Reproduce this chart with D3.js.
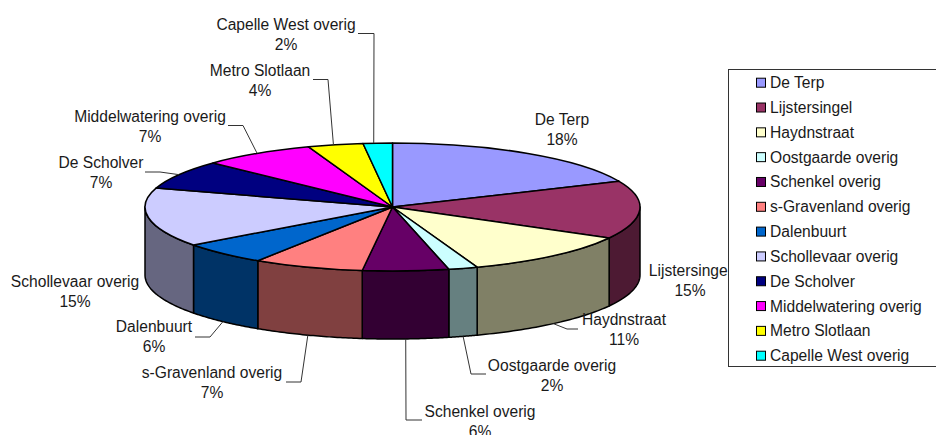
<!DOCTYPE html>
<html lang="en">
<head>
    <meta charset="UTF-8">
    <title>Aandeel per gebied</title>
    <style>
        html, body { margin: 0; padding: 0; background: #fff; overflow: hidden; }
        svg { display: block; }
        svg text { font-family: 'Liberation Sans', Arial, sans-serif; font-size: 15.6px; fill: #1a1a1a; }
    </style>
    <script src="https://d3js.org/d3.v7.min.js"></script>
</head>
<body>
    <svg width="936" height="435"></svg>
    <script>
        const categories = ["De Terp", "Lijstersingel", "Haydnstraat", "Oostgaarde overig", "Schenkel overig",
            "s-Gravenland overig", "Dalenbuurt", "Schollevaar overig", "De Scholver", "Middelwatering overig",
            "Metro Slotlaan", "Capelle West overig"];
        const shares = [18.4, 14.6, 11.4, 1.9, 5.6, 7.2, 5.7, 14.9, 7.3, 7.4, 3.6, 1.9];
        const colors = ["#9999ff", "#993366", "#ffffcc", "#ccffff", "#660066", "#ff8080",
            "#0066cc", "#ccccff", "#000080", "#ff00ff", "#ffff00", "#00ffff"];

        // label centre, then the elbow of its leader line (null = no leader)
        const labelX = [562, 690, 624, 552, 480, 212, 154, 75, 101, 150, 260, 286];
        const labelY = [120, 271, 320, 366, 412, 373, 327, 282, 163, 117, 71, 25];
        const leaders = [null, null,
            [[578, 329], [567, 329]], [[486, 374], [471, 374]], [[422, 420], [406, 420]],
            [[286, 382], [301, 382]], [[195, 337], [210, 337]], null,
            [[145, 172], [160, 172]], [[228, 125.5], [243, 125.5]],
            [[313, 79.5], [328, 79.5]], [[358, 33.5], [374, 33.5]]];
        // the two narrow back slices have their leader a bit left of the middle
        const leaderShift = [0, 0, 0, 0, 0, 0, 0, 0, 0, 0, -2, -4];

        const cx = 392.5, cy = 207, rx = 247.5, ry = 64, depth = 68;
        const svg = d3.select("svg");

        const pie = d3.pie().sort(null).value(d => d);
        const slices = pie(shares);

        const rimX = a => cx + rx * Math.sin(a);
        const rimY = a => cy - ry * Math.cos(a);
        const line = d3.line();

        // front walls, only the part of each slice between 3 and 9 o'clock shows
        const walls = svg.append("g");
        slices.forEach((s, i) => {
            const a0 = Math.max(s.startAngle, Math.PI / 2);
            const a1 = Math.min(s.endAngle, Math.PI * 1.5);
            if (a1 <= a0) return;
            const angles = d3.range(0, 41).map(k => a0 + (a1 - a0) * k / 40);
            const top = angles.map(a => [rimX(a), rimY(a)]);
            const bottom = top.map(p => [p[0], p[1] + depth]).reverse();
            const c = d3.rgb(colors[i]);
            walls.append("path")
                .attr("d", line(top.concat(bottom)) + "Z")
                .attr("fill", d3.rgb(c.r / 2, c.g / 2, c.b / 2))
                .attr("stroke", "#000")
                .attr("stroke-width", 1.5)
                .attr("stroke-linejoin", "round");
        });

        // top face is a flat pie squashed into the ellipse
        const arc = d3.arc().innerRadius(0).outerRadius(rx);
        svg.append("g")
            .attr("transform", `translate(${cx},${cy}) scale(1,${ry / rx})`)
            .selectAll("path")
            .data(slices)
            .enter().append("path")
            .attr("d", arc)
            .attr("fill", (d, i) => colors[i])
            .attr("stroke", "#000")
            .attr("stroke-width", 1.5)
            .attr("stroke-linejoin", "round")
            .attr("vector-effect", "non-scaling-stroke");

        // leader lines end on the rim at the middle of the slice
        slices.forEach((s, i) => {
            if (!leaders[i]) return;
            const mid = (s.startAngle + s.endAngle) / 2;
            const front = Math.cos(mid) < 0;
            const end = [rimX(mid) + leaderShift[i], rimY(mid) + (front ? depth : 0)];
            svg.append("path")
                .attr("d", line(leaders[i].concat([end])))
                .attr("fill", "none")
                .attr("stroke", "#333")
                .attr("stroke-width", 1);
        });

        const labels = svg.selectAll("g.label")
            .data(slices)
            .enter().append("g")
            .attr("class", "label")
            .attr("transform", (d, i) => `translate(${labelX[i]},${labelY[i]})`)
            .attr("text-anchor", "middle");
        labels.append("text")
            .attr("dy", "0.35em")
            .text((d, i) => categories[i]);
        labels.append("text")
            .attr("y", 20)
            .attr("dy", "0.35em")
            .text(d => `${Math.round(d.value)}%`);

        // legend sits on top of the Lijstersingel label, like the original
        const legendY = d3.scalePoint().domain(categories).range([82.7, 355.7]);
        const legend = svg.append("g");
        legend.append("rect")
            .attr("x", 728.5).attr("y", 69.5)
            .attr("width", 220).attr("height", 297)
            .attr("fill", "#fff")
            .attr("stroke", "#333")
            .attr("stroke-width", 1);
        const rows = legend.selectAll("g.row")
            .data(categories)
            .enter().append("g")
            .attr("class", "row")
            .attr("transform", d => `translate(756,${legendY(d)})`);
        rows.append("rect")
            .attr("x", 0.5).attr("y", -4.5)
            .attr("width", 9).attr("height", 9)
            .attr("fill", (d, i) => colors[i])
            .attr("stroke", "#000")
            .attr("stroke-width", 1);
        rows.append("text")
            .attr("x", 14)
            .attr("dy", "0.35em")
            .text(d => d);
    </script>
</body>
</html>
